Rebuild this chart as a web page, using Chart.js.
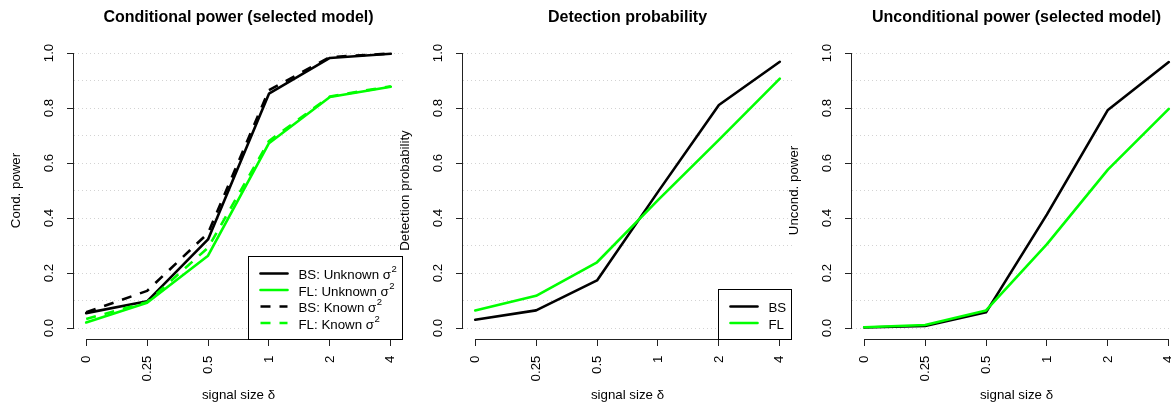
<!DOCTYPE html>
<html lang="en">
<head>
    <meta charset="UTF-8">
    <title>Power simulation</title>
    <script src="https://cdn.jsdelivr.net/npm/chart.js"></script>
    <style>
        body { margin: 0; background: #fff; }
        .wrap { position: relative; width: 1171px; height: 407px; overflow: hidden; background: #fff; }
        .wrap canvas { position: absolute; top: 0; }
    </style>
</head>
<body>
    <div class="wrap">
        <canvas id="chart1" width="403" height="407" style="left:0px"></canvas>
        <canvas id="chart2" width="403" height="407" style="left:389px"></canvas>
        <canvas id="chart3" width="403" height="407" style="left:778px"></canvas>
    </div>

    <script>
        // x categories (signal size), y tick labels
        const signalLabels = ['0', '0.25', '0.5', '1', '2', '4'];
        const yTickValues = [0, 0.2, 0.4, 0.6, 0.8, 1.0];
        const yTickLabels = ['0.0', '0.2', '0.4', '0.6', '0.8', '1.0'];
        const gridValues = [0, 0.1, 0.2, 0.3, 0.4, 0.5, 0.6, 0.7, 0.8, 0.9, 1.0];

        // panel 1: conditional power
        const condBsUnknown = [0.054, 0.097, 0.322, 0.852, 0.982, 0.997];
        const condFlUnknown = [0.020, 0.092, 0.263, 0.672, 0.840, 0.877];
        const condBsKnown   = [0.057, 0.135, 0.345, 0.865, 0.985, 0.998];
        const condFlKnown   = [0.033, 0.094, 0.292, 0.680, 0.842, 0.879];

        // panel 2: detection probability
        const detBs = [0.030, 0.064, 0.173, 0.495, 0.811, 0.968];
        const detFl = [0.064, 0.117, 0.239, 0.465, 0.684, 0.907];

        // panel 3: unconditional power
        const uncBs = [0.002, 0.007, 0.057, 0.413, 0.793, 0.967];
        const uncFl = [0.003, 0.011, 0.064, 0.305, 0.576, 0.797];

        const FONT = 'Liberation Sans, Arial, Helvetica, sans-serif';
        const BLACK = '#000000';
        const GREEN = '#00ff00';
        const AXIS = '#222222';
        const SMALL = 13.3;

        Chart.defaults.font.family = FONT;
        Chart.defaults.color = '#000';

        function series(label, values, color, dashed, order) {
            return {
                label: label,
                data: values.map((v, i) => ({ x: i, y: v })),
                borderColor: color,
                borderWidth: 2.6,
                borderDash: dashed ? [10, 9] : [],
                borderCapStyle: dashed ? 'butt' : 'round',
                borderJoinStyle: 'round',
                pointRadius: 0,
                tension: 0,
                fill: false,
                order: order
            };
        }

        // R-like axes: lines only between first and last tick, rotated y labels, boxed legend
        const rStyle = {
            id: 'rStyle',
            afterDraw(chart, args, opts) {
                const { ctx, chartArea, scales } = chart;
                const x = scales.x, y = scales.y;
                ctx.save();
                ctx.strokeStyle = AXIS;
                ctx.lineWidth = 1;

                const yb = Math.round(chartArea.bottom) + 0.5;
                ctx.beginPath();
                ctx.moveTo(x.getPixelForValue(0), yb);
                ctx.lineTo(x.getPixelForValue(signalLabels.length - 1), yb);
                ctx.stroke();

                const xl = Math.round(chartArea.left) - 0.5;
                ctx.beginPath();
                ctx.moveTo(xl, y.getPixelForValue(0));
                ctx.lineTo(xl, y.getPixelForValue(1));
                ctx.stroke();

                ctx.fillStyle = '#000';
                ctx.font = SMALL + 'px ' + FONT;
                ctx.textAlign = 'center';
                ctx.textBaseline = 'middle';
                yTickValues.forEach((v, i) => {
                    ctx.save();
                    ctx.translate(chartArea.left - 25, y.getPixelForValue(v));
                    ctx.rotate(-Math.PI / 2);
                    ctx.fillText(yTickLabels[i], 0, 0);
                    ctx.restore();
                });

                if (!opts.legend) { ctx.restore(); return; }

                // legend, bottom right inside the plot
                const items = chart.data.datasets;
                const supFont = '9.5px ' + FONT;
                const parts = items.map(d => {
                    const sup = d.label.endsWith('²');
                    return { base: sup ? d.label.slice(0, -1) : d.label, sup: sup, d: d };
                });
                let maxW = 0;
                parts.forEach(p => {
                    ctx.font = SMALL + 'px ' + FONT;
                    let w = ctx.measureText(p.base).width;
                    if (p.sup) { ctx.font = supFont; w += ctx.measureText('2').width + 0.5; }
                    maxW = Math.max(maxW, w);
                });
                const rowH = 16.5;
                const n = items.length;
                const right = chartArea.right - 0.5;
                const bottom = Math.round(chartArea.bottom) + 0.5;
                const boxW = Math.round(50 + maxW + 5.5);
                const boxH = Math.round(rowH * (n + 1));
                const left = right - boxW;
                ctx.fillStyle = '#fff';
                ctx.fillRect(left, bottom - boxH, boxW, boxH);
                ctx.strokeStyle = '#000';
                ctx.lineWidth = 1;
                ctx.setLineDash([]);
                ctx.strokeRect(left, bottom - boxH, boxW, boxH);

                parts.forEach((p, i) => {
                    const cy = bottom - rowH * (n - i);
                    ctx.beginPath();
                    ctx.strokeStyle = p.d.borderColor;
                    ctx.lineWidth = p.d.borderWidth;
                    ctx.lineCap = p.d.borderCapStyle;
                    ctx.setLineDash(p.d.borderDash);
                    ctx.moveTo(left + 12, cy);
                    ctx.lineTo(left + 39, cy);
                    ctx.stroke();
                    ctx.setLineDash([]);

                    ctx.fillStyle = '#000';
                    ctx.textAlign = 'left';
                    ctx.textBaseline = 'middle';
                    ctx.font = SMALL + 'px ' + FONT;
                    ctx.fillText(p.base, left + 50, cy + 2);
                    if (p.sup) {
                        const bw = ctx.measureText(p.base).width;
                        ctx.font = supFont;
                        ctx.fillText('2', left + 50 + bw + 0.5, cy - 4);
                    }
                });
                ctx.restore();
            }
        };

        function noPadding(s) {
            s.paddingLeft = 0;
            s.paddingRight = 0;
            s.paddingTop = 0;
            s.paddingBottom = 0;
        }

        function makePanel(canvasId, title, yTitle, datasets, showLegend) {
            const ctx = document.getElementById(canvasId).getContext('2d');
            new Chart(ctx, {
                type: 'line',
                data: { datasets: datasets },
                options: {
                    responsive: false,
                    animation: false,
                    layout: { padding: 0 },
                    plugins: {
                        legend: { display: false },
                        tooltip: { enabled: false },
                        rStyle: { legend: showLegend },
                        title: {
                            display: true,
                            text: title,
                            fullSize: false,
                            color: '#000',
                            font: { size: 16, weight: 'bold', lineHeight: 1.2 },
                            padding: { top: 8.4, bottom: 14.4 }
                        }
                    },
                    scales: {
                        x: {
                            type: 'linear',
                            min: -0.2,
                            max: 5.2,
                            afterBuildTicks: s => { s.ticks = signalLabels.map((_, i) => ({ value: i })); },
                            afterFit: s => { s.height = 68; noPadding(s); },
                            ticks: {
                                autoSkip: false,
                                minRotation: 90,
                                maxRotation: 90,
                                padding: 9.5,
                                color: '#000',
                                font: { size: SMALL },
                                callback: v => signalLabels[v]
                            },
                            grid: { drawOnChartArea: false, tickLength: 7, color: AXIS, tickBorderDash: [] },
                            border: { display: false },
                            title: {
                                display: true,
                                text: 'signal size δ',
                                color: '#000',
                                font: { size: SMALL, lineHeight: 1.2 },
                                padding: { top: 0, bottom: 4 }
                            }
                        },
                        y: {
                            min: -0.04,
                            max: 1.04,
                            afterBuildTicks: s => { s.ticks = gridValues.map(v => ({ value: v })); },
                            afterFit: s => { s.width = 74; noPadding(s); },
                            ticks: { display: false },
                            grid: {
                                color: '#d3d3d3',
                                lineWidth: 1,
                                tickLength: 7,
                                tickWidth: 1,
                                tickBorderDash: [],
                                tickColor: c => (c.tick && Math.round(c.tick.value * 10) % 2 === 0) ? AXIS : 'rgba(0,0,0,0)'
                            },
                            border: { display: false, dash: [1, 3] },
                            title: {
                                display: true,
                                text: yTitle,
                                color: '#000',
                                font: { size: SMALL, lineHeight: 1.2 },
                                padding: { top: 8, bottom: 0 }
                            }
                        }
                    }
                },
                plugins: [rStyle]
            });
        }

        makePanel('chart1', 'Conditional power (selected model)', 'Cond. power', [
            series('BS: Unknown σ²', condBsUnknown, BLACK, false, 4),
            series('FL: Unknown σ²', condFlUnknown, GREEN, false, 3),
            series('BS: Known σ²', condBsKnown, BLACK, true, 2),
            series('FL: Known σ²', condFlKnown, GREEN, true, 1)
        ], true);

        makePanel('chart2', 'Detection probability', 'Detection probability', [
            series('BS', detBs, BLACK, false, 2),
            series('FL', detFl, GREEN, false, 1)
        ], true);

        makePanel('chart3', 'Unconditional power (selected model)', 'Uncond. power', [
            series('BS', uncBs, BLACK, false, 2),
            series('FL', uncFl, GREEN, false, 1)
        ], false);
    </script>
</body>
</html>
